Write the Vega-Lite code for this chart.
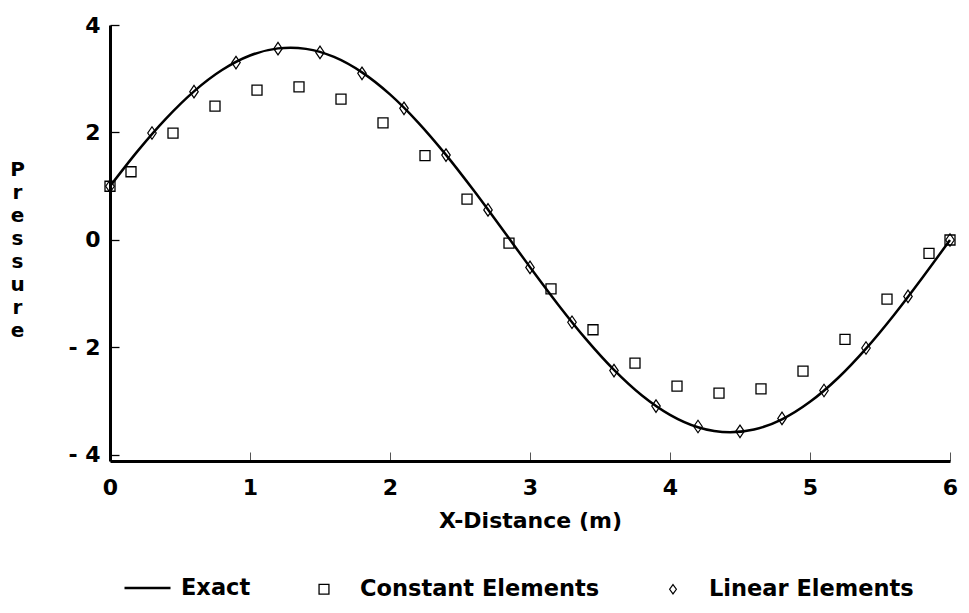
{
  "$schema": "https://vega.github.io/schema/vega-lite/v6.json",
  "width": 840,
  "height": 436,
  "autosize": {"type": "none"},
  "padding": {"left": 110, "top": 25, "right": 19, "bottom": 152},
  "background": "white",
  "config": {
    "font": "DejaVu Sans",
    "view": {"stroke": null},
    "axis": {
      "grid": false,
      "domainColor": "black",
      "domainWidth": 3,
      "labelFont": "DejaVu Sans",
      "labelFontSize": 22,
      "labelFontWeight": "bold",
      "labelColor": "black",
      "labelFlush": false,
      "titleFont": "DejaVu Sans",
      "titleFontWeight": "bold",
      "titleColor": "black"
    },
    "legend": {
      "title": null,
      "orient": "none",
      "legendX": 13,
      "legendY": 537,
      "direction": "horizontal",
      "columnPadding": 46,
      "labelOffset": 9,
      "padding": 0,
      "labelLimit": 500,
      "labelFont": "DejaVu Sans",
      "labelFontSize": 22.5,
      "labelFontWeight": "bold",
      "labelColor": "black",
      "symbolStrokeColor": "black",
      "symbolFillColor": "transparent"
    }
  },
  "datasets": {
    "exact": [
      {"x": 0, "p": 1.0}, {"x": 0.2, "p": 1.663}, {"x": 0.4, "p": 2.259}, {"x": 0.6, "p": 2.766},
      {"x": 0.8, "p": 3.162}, {"x": 1.0, "p": 3.432}, {"x": 1.2, "p": 3.565}, {"x": 1.29, "p": 3.579},
      {"x": 1.4, "p": 3.556}, {"x": 1.6, "p": 3.406}, {"x": 1.8, "p": 3.119}, {"x": 2.0, "p": 2.709},
      {"x": 2.2, "p": 2.19}, {"x": 2.4, "p": 1.584}, {"x": 2.6, "p": 0.915}, {"x": 2.8, "p": 0.209},
      {"x": 3.0, "p": -0.505}, {"x": 3.2, "p": -1.199}, {"x": 3.4, "p": -1.845}, {"x": 3.6, "p": -2.417},
      {"x": 3.8, "p": -2.894}, {"x": 4.0, "p": -3.254}, {"x": 4.2, "p": -3.485}, {"x": 4.43, "p": -3.579},
      {"x": 4.6, "p": -3.527}, {"x": 4.8, "p": -3.336}, {"x": 5.0, "p": -3.011}, {"x": 5.2, "p": -2.568},
      {"x": 5.4, "p": -2.021}, {"x": 5.6, "p": -1.394}, {"x": 5.8, "p": -0.711}, {"x": 6.0, "p": 0.0}
    ],
    "points": [
      {"series": "Constant Elements", "x": 0, "p": 1.0},
      {"series": "Constant Elements", "x": 0.15, "p": 1.27},
      {"series": "Constant Elements", "x": 0.45, "p": 1.99},
      {"series": "Constant Elements", "x": 0.75, "p": 2.49},
      {"series": "Constant Elements", "x": 1.05, "p": 2.79},
      {"series": "Constant Elements", "x": 1.35, "p": 2.85},
      {"series": "Constant Elements", "x": 1.65, "p": 2.62},
      {"series": "Constant Elements", "x": 1.95, "p": 2.18},
      {"series": "Constant Elements", "x": 2.25, "p": 1.57},
      {"series": "Constant Elements", "x": 2.55, "p": 0.76},
      {"series": "Constant Elements", "x": 2.85, "p": -0.06},
      {"series": "Constant Elements", "x": 3.15, "p": -0.91},
      {"series": "Constant Elements", "x": 3.45, "p": -1.67},
      {"series": "Constant Elements", "x": 3.75, "p": -2.29},
      {"series": "Constant Elements", "x": 4.05, "p": -2.72},
      {"series": "Constant Elements", "x": 4.35, "p": -2.85},
      {"series": "Constant Elements", "x": 4.65, "p": -2.77},
      {"series": "Constant Elements", "x": 4.95, "p": -2.44},
      {"series": "Constant Elements", "x": 5.25, "p": -1.85},
      {"series": "Constant Elements", "x": 5.55, "p": -1.1},
      {"series": "Constant Elements", "x": 5.85, "p": -0.25},
      {"series": "Constant Elements", "x": 6.0, "p": 0.0},
      {"series": "Linear Elements", "x": 0, "p": 1.0},
      {"series": "Linear Elements", "x": 0.3, "p": 1.99},
      {"series": "Linear Elements", "x": 0.6, "p": 2.76},
      {"series": "Linear Elements", "x": 0.9, "p": 3.3},
      {"series": "Linear Elements", "x": 1.2, "p": 3.56},
      {"series": "Linear Elements", "x": 1.5, "p": 3.49},
      {"series": "Linear Elements", "x": 1.8, "p": 3.1},
      {"series": "Linear Elements", "x": 2.1, "p": 2.45},
      {"series": "Linear Elements", "x": 2.4, "p": 1.58},
      {"series": "Linear Elements", "x": 2.7, "p": 0.56},
      {"series": "Linear Elements", "x": 3.0, "p": -0.51},
      {"series": "Linear Elements", "x": 3.3, "p": -1.53},
      {"series": "Linear Elements", "x": 3.6, "p": -2.43},
      {"series": "Linear Elements", "x": 3.9, "p": -3.09},
      {"series": "Linear Elements", "x": 4.2, "p": -3.47},
      {"series": "Linear Elements", "x": 4.5, "p": -3.56},
      {"series": "Linear Elements", "x": 4.8, "p": -3.32},
      {"series": "Linear Elements", "x": 5.1, "p": -2.8},
      {"series": "Linear Elements", "x": 5.4, "p": -2.01},
      {"series": "Linear Elements", "x": 5.7, "p": -1.05},
      {"series": "Linear Elements", "x": 6.0, "p": 0.0}
    ],
    "legendEntries": [
      {"series": "Exact"},
      {"series": "Constant Elements"},
      {"series": "Linear Elements"}
    ]
  },
  "encoding": {
    "x": {
      "field": "x",
      "type": "quantitative",
      "scale": {"domain": [0, 6], "nice": false, "zero": false},
      "axis": {
        "values": [0, 1, 2, 3, 4, 5, 6],
        "format": "d",
        "title": "X-Distance (m)",
        "titleFontSize": 22,
        "titlePadding": 12,
        "tickSize": -9,
        "tickColor": "#555",
        "tickWidth": 1,
        "labelPadding": 25
      }
    },
    "y": {
      "field": "p",
      "type": "quantitative",
      "scale": {"domain": [-4.112, 4], "nice": false, "zero": false},
      "axis": {
        "values": [-4, -2, 0, 2, 4],
        "labelExpr": "datum.value < 0 ? '- ' + abs(datum.value) : datum.label",
        "tickSize": -9,
        "tickColor": "black",
        "tickWidth": 1.3,
        "labelPadding": 19,
        "title": ["P", "r", "e", "s", "s", "u", "r", "e"],
        "titleAngle": 0,
        "titleX": -93,
        "titleY": 150,
        "titleAlign": "center",
        "titleBaseline": "alphabetic",
        "titleFontSize": 20,
        "titleLineHeight": 23
      }
    }
  },
  "layer": [
    {
      "data": {"name": "exact"},
      "mark": {"type": "line", "color": "black", "strokeWidth": 2.5, "interpolate": "monotone"}
    },
    {
      "data": {"name": "points"},
      "transform": [{"filter": "datum.series === 'Constant Elements'"}],
      "mark": {"type": "point", "shape": "square", "size": 100, "filled": false, "color": "black", "strokeWidth": 1.3, "opacity": 1}
    },
    {
      "data": {"name": "points"},
      "transform": [{"filter": "datum.series === 'Linear Elements'"}],
      "mark": {"type": "point", "shape": "M0,-1.25L0.85,0L0,1.25L-0.85,0Z", "size": 100, "filled": false, "color": "black", "strokeWidth": 1.2, "opacity": 1}
    },
    {
      "data": {"name": "legendEntries"},
      "mark": {"type": "point", "filled": false, "color": "black", "opacity": 1},
      "encoding": {
        "shape": {
          "field": "series",
          "type": "nominal",
          "scale": {
            "domain": ["Exact", "Constant Elements", "Linear Elements"],
            "range": ["stroke", "M-0.19,-0.19H0.19V0.19H-0.19Z", "M0,-0.18L0.13,0L0,0.18L-0.13,0Z"]
          }
        },
        "size": {
          "field": "series",
          "type": "nominal",
          "scale": {
            "type": "ordinal",
            "domain": ["Exact", "Constant Elements", "Linear Elements"],
            "range": [2116, 2704, 2704]
          }
        },
        "strokeWidth": {
          "field": "series",
          "type": "nominal",
          "scale": {
            "type": "ordinal",
            "domain": ["Exact", "Constant Elements", "Linear Elements"],
            "range": [2.5, 1.3, 1.2]
          }
        }
      }
    }
  ]
}
